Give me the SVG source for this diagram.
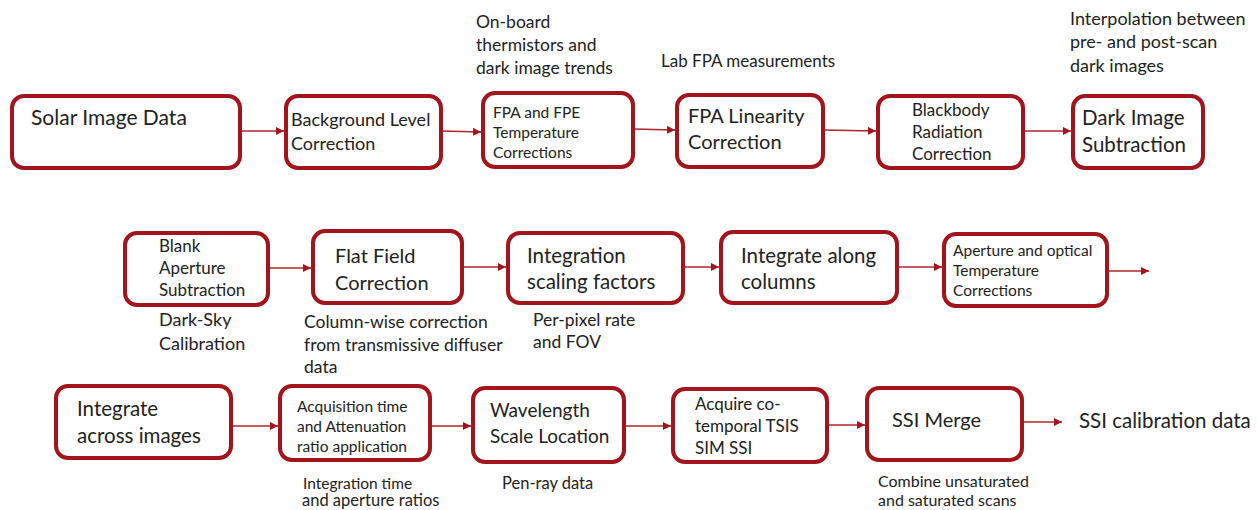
<svg xmlns="http://www.w3.org/2000/svg" width="1257" height="510" viewBox="0 0 1257 510">
  <defs>
    <marker id="head" viewBox="0 0 10 10" refX="10" refY="5" markerWidth="8" markerHeight="8" markerUnits="userSpaceOnUse" orient="auto">
      <path d="M0,0 L10,5 L0,10 z" fill="#a3141c"/>
    </marker>
    <style>
      .box { fill: #ffffff; stroke: #a3141c; stroke-width: 4; }
      .wire { stroke: #b0242a; stroke-width: 1.5; fill: none; marker-end: url(#head); }
      text { font-family: Lato, "Open Sans", sans-serif; fill: #222222; }
      .l { font-size: 20.5px; }
      .m { font-size: 17.5px; }
      .s { font-size: 15.5px; }
      .n { font-size: 17px; }
      .note { font-size: 17.5px; }
    </style>
  </defs>

  <rect width="1257" height="510" fill="#ffffff"/>

  <!-- connectors -->
  <g id="connectors">
    <line class="wire" x1="240" y1="131" x2="284" y2="131"/>
    <line class="wire" x1="441" y1="131" x2="481" y2="132"/>
    <line class="wire" x1="633" y1="129" x2="675" y2="130"/>
    <line class="wire" x1="823" y1="130" x2="876" y2="131"/>
    <line class="wire" x1="1023" y1="131" x2="1071" y2="131"/>

    <line class="wire" x1="268" y1="268" x2="311" y2="268"/>
    <line class="wire" x1="462" y1="267" x2="506" y2="267"/>
    <line class="wire" x1="683" y1="267" x2="719" y2="267"/>
    <line class="wire" x1="897" y1="267" x2="942" y2="267"/>
    <line class="wire" x1="1107" y1="271" x2="1149" y2="271"/>

    <line class="wire" x1="231" y1="426" x2="278" y2="426"/>
    <line class="wire" x1="430" y1="426" x2="471" y2="426"/>
    <line class="wire" x1="624" y1="426" x2="671" y2="426"/>
    <line class="wire" x1="827" y1="425" x2="865" y2="425"/>
    <line class="wire" x1="1022" y1="422" x2="1062" y2="422"/>
  </g>

  <!-- row 1 -->
  <g id="solar-image-data">
    <rect class="box" x="12" y="96" width="228" height="72" rx="12"/>
    <text x="31" y="125" style="font-size:21px">Solar Image Data</text>
  </g>
  <g id="background-level">
    <rect class="box" x="286" y="96" width="155" height="72" rx="12"/>
    <text x="291" y="126" style="font-size:18px">Background Level</text>
    <text x="291" y="150" style="font-size:18px">Correction</text>
  </g>
  <g id="fpa-fpe-temperature">
    <rect class="box" x="483" y="93" width="150" height="74" rx="12"/>
    <text class="s" x="493" y="118">FPA and FPE</text>
    <text class="s" x="493" y="138">Temperature</text>
    <text class="s" x="493" y="158">Corrections</text>
  </g>
  <g id="note-thermistors">
    <text class="note" x="476" y="28">On-board</text>
    <text class="note" x="476" y="51">thermistors and</text>
    <text class="note" x="476" y="74">dark image trends</text>
  </g>
  <g id="fpa-linearity">
    <rect class="box" x="677" y="95" width="146" height="72" rx="12"/>
    <text x="688" y="123" style="font-size:20px">FPA Linearity</text>
    <text x="688" y="149" style="font-size:20px">Correction</text>
  </g>
  <g id="note-lab-fpa">
    <text class="n" x="661" y="67">Lab FPA measurements</text>
  </g>
  <g id="blackbody">
    <rect class="box" x="878" y="96" width="145" height="72" rx="12"/>
    <text class="n" x="912" y="116">Blackbody</text>
    <text class="n" x="912" y="138">Radiation</text>
    <text class="n" x="912" y="160">Correction</text>
  </g>
  <g id="dark-image-subtraction">
    <rect class="box" x="1073" y="96" width="130" height="72" rx="12"/>
    <text class="l" x="1082" y="125">Dark Image</text>
    <text class="l" x="1082" y="152">Subtraction</text>
  </g>
  <g id="note-interpolation">
    <text x="1070" y="25" style="font-size:18px">Interpolation between</text>
    <text x="1070" y="48" style="font-size:18px">pre- and post-scan</text>
    <text x="1070" y="72" style="font-size:18px">dark images</text>
  </g>

  <!-- row 2 -->
  <g id="blank-aperture">
    <rect class="box" x="125" y="233" width="143" height="72" rx="12"/>
    <text class="n" x="159" y="252">Blank</text>
    <text class="n" x="159" y="274">Aperture</text>
    <text class="n" x="159" y="296">Subtraction</text>
    <text x="159" y="326" style="font-size:18px">Dark-Sky</text>
    <text x="159" y="350" style="font-size:18px">Calibration</text>
  </g>
  <g id="flat-field">
    <rect class="box" x="313" y="231" width="149" height="72" rx="12"/>
    <text x="335" y="263" style="font-size:20px">Flat Field</text>
    <text x="335" y="290" style="font-size:20px">Correction</text>
  </g>
  <g id="note-column-wise">
    <text class="m" x="304" y="328">Column-wise correction</text>
    <text class="m" x="304" y="351">from transmissive diffuser</text>
    <text class="m" x="304" y="373">data</text>
  </g>
  <g id="integration-scaling">
    <rect class="box" x="508" y="233" width="175" height="70" rx="12"/>
    <text class="l" x="527" y="263">Integration</text>
    <text class="l" x="527" y="289">scaling factors</text>
  </g>
  <g id="note-per-pixel">
    <text class="m" x="533" y="326">Per-pixel rate</text>
    <text class="m" x="533" y="348">and FOV</text>
  </g>
  <g id="integrate-columns">
    <rect class="box" x="721" y="232" width="176" height="71" rx="12"/>
    <text class="l" x="741" y="263">Integrate along</text>
    <text class="l" x="741" y="289">columns</text>
  </g>
  <g id="aperture-optical">
    <rect class="box" x="944" y="234" width="163" height="72" rx="12"/>
    <text class="s" x="953" y="256">Aperture and optical</text>
    <text class="s" x="953" y="276">Temperature</text>
    <text class="s" x="953" y="296">Corrections</text>
  </g>

  <!-- row 3 -->
  <g id="integrate-images">
    <rect class="box" x="56" y="386" width="175" height="72" rx="12"/>
    <text class="l" x="77" y="416">Integrate</text>
    <text class="l" x="77" y="443">across images</text>
  </g>
  <g id="acquisition-time">
    <rect class="box" x="280" y="386" width="150" height="74" rx="12"/>
    <text class="s" x="297" y="412">Acquisition time</text>
    <text class="s" x="297" y="432">and Attenuation</text>
    <text class="s" x="297" y="452">ratio application</text>
  </g>
  <g id="note-integration-time">
    <text class="s" x="303" y="489">Integration time</text>
    <text x="302" y="506" style="font-size:16.5px">and aperture ratios</text>
  </g>
  <g id="wavelength-scale">
    <rect class="box" x="473" y="388" width="151" height="74" rx="12"/>
    <text x="490" y="417" style="font-size:19px">Wavelength</text>
    <text x="490" y="443" style="font-size:19px">Scale Location</text>
  </g>
  <g id="note-pen-ray">
    <text x="502" y="489" style="font-size:16.5px">Pen-ray data</text>
  </g>
  <g id="acquire-tsis">
    <rect class="box" x="673" y="389" width="154" height="73" rx="12"/>
    <text class="n" x="695" y="410">Acquire co-</text>
    <text class="n" x="695" y="432">temporal TSIS</text>
    <text class="n" x="695" y="454">SIM SSI</text>
  </g>
  <g id="ssi-merge">
    <rect class="box" x="867" y="388" width="155" height="72" rx="12"/>
    <text x="892" y="427" style="font-size:20px">SSI Merge</text>
  </g>
  <g id="note-combine">
    <text x="878" y="487" style="font-size:16px">Combine unsaturated</text>
    <text x="878" y="506" style="font-size:16px">and saturated scans</text>
  </g>
  <g id="ssi-calibration-data">
    <text class="l" x="1079" y="428">SSI calibration data</text>
  </g>
</svg>
